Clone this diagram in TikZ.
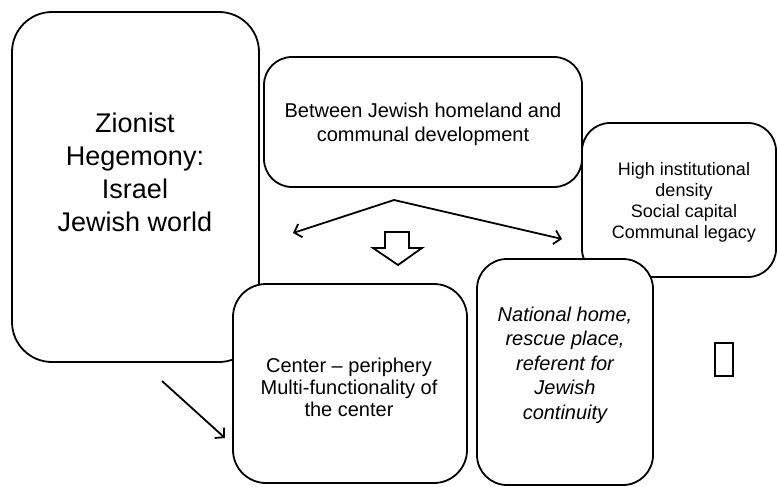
\documentclass[tikz,border=0pt]{standalone}
\usepackage{fontspec}
\setmainfont{Liberation Sans}
\usetikzlibrary{arrows.meta}

\tikzset{
  card/.style={draw=black, fill=white, line width=1.8pt, inner sep=0pt},
  cardtext/.style={align=center, inner sep=0pt},
  thinarrow/.style={line width=1.8pt, -{Straight Barb[length=6.5pt,width=14pt]}},
  hollowarrow/.style={draw=black, fill=white, line width=1.8pt, line join=miter},
}

\begin{document}
\begin{tikzpicture}[x=1pt, y=-1pt]
  \useasboundingbox (0,0) rectangle (777,487);

  % rounded boxes, back to front
  \node[card, minimum width=247pt, minimum height=350pt, rounded corners=40pt] (zion) at (135.5,187) {};
  \node[card, minimum width=318pt, minimum height=130pt, rounded corners=28pt] (between) at (423,122) {};
  \node[card, minimum width=194pt, minimum height=154pt, rounded corners=28pt] (high) at (679,200) {};
  \node[card, minimum width=234pt, minimum height=199pt, rounded corners=33pt] (center) at (350,383.5) {};
  \node[card, minimum width=176pt, minimum height=226pt, rounded corners=30pt] (national) at (565,372) {};

  % box texts
  \node[cardtext, font=\fontsize{27}{33}\selectfont] (ziontext) at (135,172)
    {Zionist\\Hegemony:\\Israel\\Jewish world};
  \node[cardtext, font=\fontsize{20}{24}\selectfont] (betweentext) at (423,124.5)
    {Between Jewish homeland and\\communal development};
  \node[cardtext, font=\fontsize{18}{21}\selectfont] (hightext) at (684,202.5)
    {High institutional\\density\\Social capital\\Communal legacy};
  \node[cardtext, font=\fontsize{20}{22}\selectfont] (centertext) at (349,387)
    {Center -- periphery\\Multi-functionality of\\the center};
  \node[cardtext, font=\fontsize{20}{24.5}\selectfont\itshape] (nationaltext) at (565,365)
    {National home,\\rescue place,\\referent for\\Jewish\\continuity};

  % small empty frame on the right
  \node[draw=black, line width=1.8pt, minimum width=18pt, minimum height=33pt, inner sep=0pt] (frame) at (724,359.5) {};

  % fork of arrows below the top box
  \coordinate (apex) at (394,200);
  \coordinate (forkleft) at (293,233);
  \coordinate (forkright) at (562,239);
  \draw[thinarrow] (apex) -- (forkleft);
  \draw[thinarrow] (apex) -- (forkright);

  % hollow down arrow
  \draw[hollowarrow] (385,232) -- (409,232) -- (409,248) -- (422,248) -- (398,265)
    -- (373,248) -- (385,248) -- cycle;

  % diagonal arrow towards the center box
  \coordinate (diagstart) at (162,381);
  \coordinate (diagend) at (225,438);
  \draw[thinarrow] (diagstart) -- (diagend);
\end{tikzpicture}
\end{document}
